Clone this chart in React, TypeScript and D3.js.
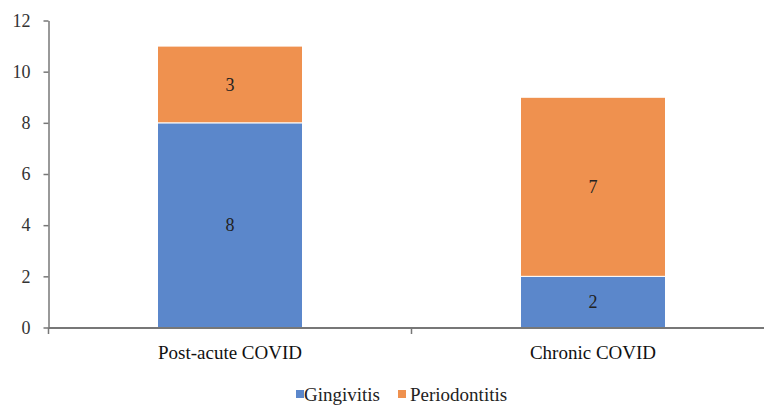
import { useEffect, useRef } from "react";
import * as d3 from "d3";

const categories = ["Post-acute COVID", "Chronic COVID"];
const seriesNames = ["Gingivitis", "Periodontitis"];
const gingivitis = [8, 2];
const periodontitis = [3, 7];
const yTicks = [0, 2, 4, 6, 8, 10, 12];
const colors = ["#5B87CB", "#EF914F"];

const W = 764;
const H = 405;
const FONT = "Liberation Serif";

const App = () => {
	const svgRef = useRef<SVGSVGElement>(null);

	useEffect(() => {
		if (!svgRef.current) return;
		const svg = d3.select(svgRef.current);
		svg.selectAll("*").remove();

		const x = d3.scaleBand().domain(categories).range([48.5, 774.5]).paddingInner(0).paddingOuter(0);
		const y = d3.scaleLinear().domain([0, 12]).range([327.5, 20.5]);
		const barW = 145;

		const rows = categories.map((c, i) => ({ cat: c, Gingivitis: gingivitis[i], Periodontitis: periodontitis[i] }));
		const stacked = d3.stack<any>().keys(seriesNames)(rows);

		// barres empilées
		stacked.forEach((layer, si) => {
			const g = svg.append("g");
			layer.forEach((d) => {
				const cx = (x(d.data.cat) ?? 0) + x.bandwidth() / 2;
				g.append("rect")
					.attr("x", cx - barW / 2)
					.attr("y", y(d[1]))
					.attr("width", barW)
					.attr("height", y(d[0]) - y(d[1]))
					.attr("fill", colors[si])
					.attr("stroke", "#fff")
					.attr("stroke-width", 1);
				g.append("text")
					.attr("x", cx)
					.attr("y", (y(d[0]) + y(d[1])) / 2)
					.attr("dy", "0.35em")
					.attr("text-anchor", "middle")
					.attr("font-family", FONT)
					.attr("font-size", 18)
					.attr("fill", "#222")
					.text(d[1] - d[0]);
			});
		});

		// axe y
		const yAxis = svg
			.append("g")
			.attr("transform", "translate(48.5,0)")
			.call(d3.axisLeft(y).tickValues(yTicks).tickSize(5).tickPadding(13).tickSizeOuter(0));
		yAxis.select(".domain").attr("stroke", "#777").attr("stroke-width", 1.5);
		yAxis.selectAll(".tick line").attr("stroke", "#777").attr("stroke-width", 1.5);
		yAxis
			.selectAll(".tick text")
			.attr("font-family", FONT)
			.attr("font-size", 18)
			.attr("fill", "#333");

		// axe x
		const xAxis = svg
			.append("g")
			.attr("transform", "translate(0,327.5)")
			.call(d3.axisBottom(x).tickSize(0).tickPadding(18));
		xAxis.select(".domain").attr("stroke", "#777").attr("stroke-width", 2);
		xAxis
			.selectAll(".tick text")
			.attr("font-family", FONT)
			.attr("font-size", 19)
			.attr("fill", "#111");
		// séparateurs de catégories
		categories.forEach((c) => {
			const bx = x(c) ?? 0;
			svg.append("line")
				.attr("x1", bx).attr("x2", bx)
				.attr("y1", 327.5).attr("y2", 334)
				.attr("stroke", "#777").attr("stroke-width", 1.5);
		});

		// légende
		const legend = svg.append("g");
		const lx = [296, 398];
		const tx = [304, 410];
		seriesNames.forEach((n, i) => {
			legend.append("rect")
				.attr("x", lx[i]).attr("y", 390)
				.attr("width", 8).attr("height", 8)
				.attr("fill", colors[i]);
			legend.append("text")
				.attr("x", tx[i]).attr("y", 394)
				.attr("dy", "0.35em")
				.attr("font-family", FONT)
				.attr("font-size", 19)
				.attr("fill", "#222")
				.text(n);
		});
	}, []);

	return (
		<svg
			ref={svgRef}
			width={W}
			height={H}
			style={{ position: "absolute", left: 0, top: 0, background: "#fff" }}
		></svg>
	);
};

export default App;
